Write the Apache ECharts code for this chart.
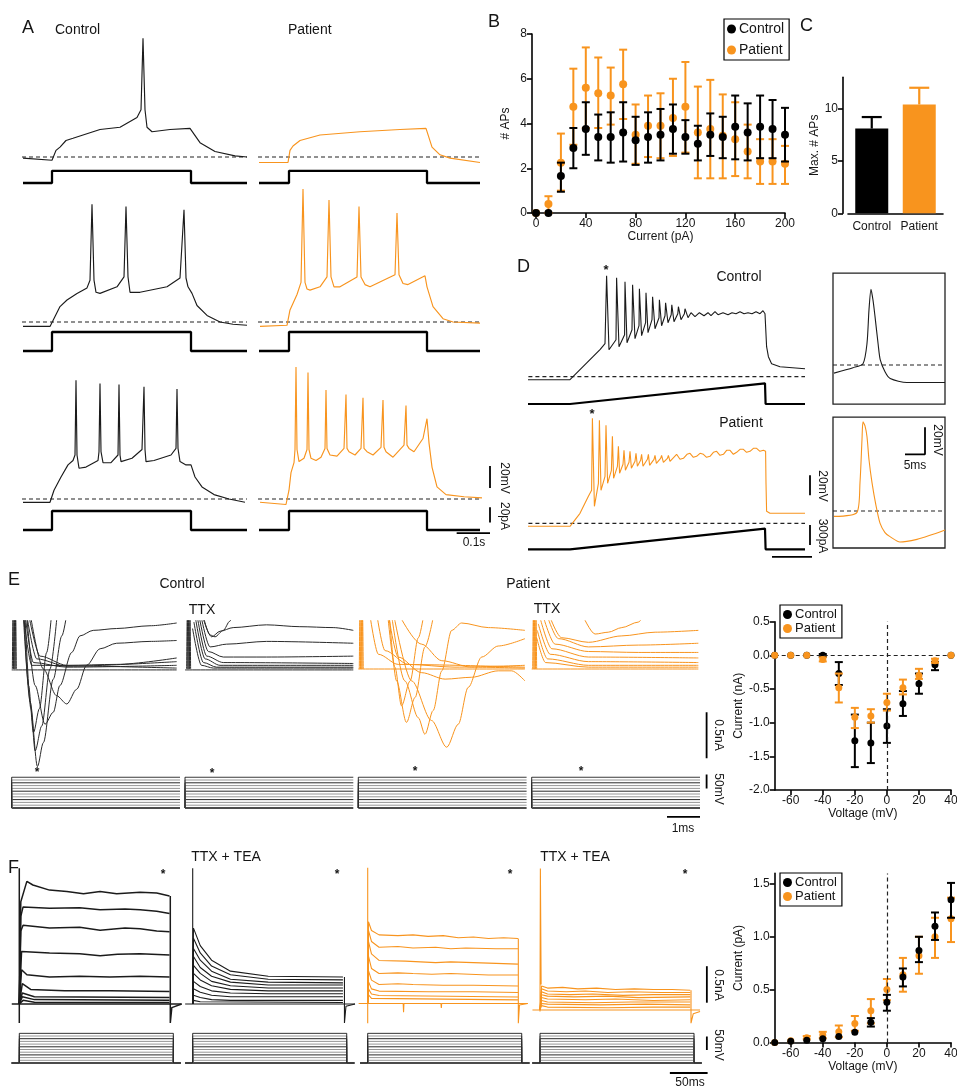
<!DOCTYPE html>
<html><head><meta charset="utf-8">
<script src="https://cdn.jsdelivr.net/npm/echarts@6/dist/echarts.min.js"></script>
<style>html,body{margin:0;padding:0;background:#fff}#c{width:957px;height:1091px}</style>
</head><body><div id="c"></div><script>
// ---------------- DATA ----------------
// Panel B: number of APs vs injected current
const bCurrent=[0,10,20,30,40,50,60,70,80,90,100,110,120,130,140,150,160,170,180,190,200];
const bCtrlMean=[0,0,1.65,2.9,3.75,3.4,3.4,3.6,3.25,3.4,3.5,3.75,3.4,3.1,3.5,3.4,3.85,3.6,3.85,3.75,3.5];
const bCtrlLo=[null,null,0.95,2.0,2.6,2.35,2.25,2.3,2.15,2.25,2.35,2.65,2.65,2.35,2.55,2.45,2.4,2.35,2.45,2.45,2.3];
const bCtrlHi=[null,null,2.25,3.8,4.95,4.4,4.5,4.95,4.3,4.5,4.65,4.85,4.15,3.9,4.45,4.3,5.25,4.9,5.25,5.05,4.7];
const bPatMean=[0,0.4,2.25,4.75,5.6,5.35,5.25,5.75,3.5,3.9,3.9,4.25,4.75,3.6,3.75,3.45,3.3,2.75,2.3,2.3,2.2];
const bPatLo=[null,0,1.0,3.05,3.8,3.8,3.95,4.2,2.2,2.5,2.45,2.55,2.7,1.55,1.55,1.55,1.65,1.55,1.3,1.3,1.3];
const bPatHi=[null,0.75,3.55,6.45,7.4,6.95,6.5,7.3,4.85,5.25,5.35,6.0,6.75,5.65,5.95,5.3,4.95,3.95,3.3,3.3,3.0];
// Panel C: max number of APs
const cGroups=['Control','Patient'];
const cMean=[8.1,10.4];
const cErrHi=[9.2,12.0];
// Panel E / F I-V curves
const ivVoltage=[-70,-60,-50,-40,-30,-20,-10,0,10,20,30,40];
const eCtrlMean=[0,0,0,0,-0.27,-1.27,-1.3,-1.05,-0.72,-0.42,-0.14,0];
const eCtrlLo=[null,null,null,-0.02,-0.44,-1.66,-1.6,-1.3,-0.9,-0.57,-0.22,null];
const eCtrlHi=[null,null,null,0.02,-0.1,-0.88,-1.0,-0.8,-0.53,-0.27,-0.1,null];
const ePatMean=[0,0,0,-0.06,-0.48,-0.92,-0.9,-0.7,-0.48,-0.3,-0.08,0];
const ePatLo=[null,null,null,-0.09,-0.7,-1.08,-1.0,-0.82,-0.58,-0.35,-0.11,null];
const ePatHi=[null,null,null,-0.03,-0.27,-0.78,-0.8,-0.57,-0.36,-0.2,-0.05,null];
const fCtrlMean=[0,0.01,0.02,0.035,0.055,0.095,0.19,0.38,0.62,0.87,1.1,1.35];
const fCtrlLo=[null,null,null,null,null,null,0.15,0.3,0.53,0.76,0.97,1.18];
const fCtrlHi=[null,null,null,null,null,null,0.23,0.45,0.7,1.0,1.23,1.51];
const fPatMean=[0,0.015,0.045,0.07,0.1,0.18,0.3,0.5,0.64,0.82,1.0,1.17];
const fPatLo=[null,null,0.03,0.04,0.05,0.11,0.18,0.4,0.48,0.65,0.8,0.95];
const fPatHi=[null,null,0.06,0.1,0.16,0.25,0.41,0.6,0.8,1.0,1.18,1.37];

// Panel A: voltage traces [ms, mV]
const REST=-65;
const aCtrl1=[[0,-66],[87,-68],[99,-59],[111,-56],[129,-50],[150,-48],[231,-40],[291,-38],[342,-29],[354,-22],[360,43],[366,-22],[372,-38],[387,-42],[441,-40],[501,-39],[531,-52],[576,-60],[636,-64],[672,-65]];
const aPat1=[[0,-70],[87,-70],[93,-59],[102,-55],[123,-50],[183,-45],[303,-42],[423,-40],[501,-39],[519,-56],[543,-63],[573,-66],[663,-70]];
const aCtrl2=[[0,-69],[81,-69],[96,-60],[111,-51],[132,-45],[162,-39],[192,-34],[201,-27],[207,42],[213,-27],[219,-38],[231,-39],[282,-33],[303,-24],[309,40],[315,-24],[321,-38],[351,-38],[432,-33],[471,-25],[483,37],[489,-25],[495,-33],[507,-39],[522,-50],[552,-59],[591,-65],[630,-67],[672,-68]];
const aPat2=[[3,-69],[84,-68],[93,-54],[114,-40],[126,-29],[132,56],[138,-29],[144,-35],[153,-36],[183,-33],[204,-24],[210,46],[216,-24],[225,-33],[243,-33],[294,-24],[300,40],[306,-24],[318,-31],[333,-33],[408,-22],[414,34],[420,-22],[432,-30],[447,-31],[498,-23],[504,-33],[522,-51],[552,-62],[582,-65],[663,-66]];
const aCtrl3=[[0,-68],[81,-68],[93,-57],[114,-45],[135,-34],[150,-30],[156,-25],[159,43],[162,-25],[168,-37],[189,-36],[225,-30],[228,-22],[231,40],[234,-22],[240,-32],[264,-32],[285,-25],[288,39],[291,-25],[294,-31],[327,-28],[357,-20],[363,37],[366,-20],[369,-31],[393,-30],[444,-25],[459,-19],[462,35],[465,-19],[471,-31],[489,-34],[504,-34],[516,-45],[537,-54],[573,-61],[618,-65],[666,-68]];
const aPat3=[[3,-68],[81,-70],[90,-57],[96,-41],[105,-32],[108,-20],[111,55],[114,-20],[120,-31],[135,-28],[144,-20],[147,50],[150,-20],[156,-28],[171,-30],[186,-27],[198,-19],[201,34],[204,-19],[213,-25],[234,-26],[255,-19],[261,30],[264,-19],[270,-22],[288,-25],[306,-19],[312,27],[315,-19],[324,-22],[342,-25],[366,-18],[372,25],[375,-18],[381,-22],[402,-27],[435,-16],[441,20],[444,-16],[450,-19],[465,-22],[492,-10],[504,8],[510,-14],[519,-36],[534,-54],[561,-61],[615,-63],[669,-64]];
const aStimOn=[87,90], aStimOff=504, aStimEnd=[672,663];
const aStimAmp=[16,25,25]; // pA
const aRestSpan=[[-3,672],[-3,669]];

// Panel D: ramp-evoked firing [ms, mV]
const dCtrl=[[0,-68],[210,-68],[295,-51],[360,-38],[385,-32],[393,36],[405,-38],[440,-28],[443,34],[455,-35],[483,-23],[485,30],[495,-31],[520,-18],[523,27],[535,-27],[555,-14],[557,23],[568,-24],[588,-11],[590,19],[600,-21],[620,-8],[623,15],[635,-17],[655,-6],[657,12],[668,-14],[685,-4],[688,9],[700,-11],[716,-3],[719,7],[730,-10],[749,-2],[752,5],[765,-8],[782,-2],[785,3],[800,-6],[815,-1],[818,1],[835,-5],[857,-1],[860,0],[880,-4],[900,-1],[915,-4],[935,0],[950,-3],[975,-1],[1000,-3],[1020,-1],[1040,-2],[1060,0],[1080,-2],[1100,-1],[1120,-2],[1140,0],[1160,-2],[1175,1],[1185,-2],[1193,-35],[1202,-45],[1218,-52],[1260,-55],[1385,-57]];
const dPat=[[0,-68],[210,-68],[260,-55],[302,-38],[318,-32],[322,40],[332,-48],[352,-25],[357,38],[365,-32],[385,-18],[390,33],[398,-25],[417,-12],[422,22],[428,-20],[447,-8],[452,12],[458,-15],[475,-6],[480,8],[487,-12],[505,-4],[510,7],[517,-10],[535,-3],[540,5],[547,-8],[563,-2],[568,4],[575,-8],[597,-1],[602,4],[608,-7],[630,-1],[635,3],[642,-5],[663,0],[668,3],[677,-4],[697,0],[702,3],[710,-3],[743,4],[760,-1],[777,0],[795,4],[810,5],[827,1],[843,2],[860,5],[877,4],[893,1],[910,2],[927,6],[943,7],[960,3],[977,4],[993,8],[1010,8],[1027,4],[1043,6],[1060,9],[1077,9],[1093,6],[1110,7],[1127,10],[1143,10],[1160,7],[1177,8],[1188,7],[1190,-25],[1193,-53],[1210,-55],[1385,-55]];
const dRampT=[0,210,1185,1188,1385];
const dRampI=[0,0,310,0,0]; // pA
const dInsetCtrl=[[0.25,-71],[5,-67],[7.5,-64],[8.5,-49],[9,-24],[9.5,-9],[10,-17],[10.5,-29],[11.3,-50],[11.8,-61],[13,-70],[14.3,-75],[18.5,-78],[28,-78]];
const dInsetPat=[[0.25,-69],[6,-66],[6.75,-44],[7.25,-12],[7.5,1],[8,-2],[8.5,-10],[9,-27],[9.75,-44],[10.75,-61],[11.75,-74],[13,-81],[14.25,-84],[16.75,-88],[21,-86],[24.25,-83],[28,-79]];

// Panel E: Na currents [ms, nA]
const eCtrlTraces=[
 [[0.35,0.6],[0.56,-0.36],[0.78,-1.06],[0.96,-0.8],[1.26,-0.11],[1.52,0.36],[1.67,0.6]],
 [[0.4,0.6],[0.58,-0.43],[0.71,-0.89],[0.91,-0.62],[1.16,0],[1.38,0.6]],
 [[0.37,0.6],[0.51,-0.18],[0.66,-0.69],[0.84,-0.43],[1.06,0.18],[1.21,0.6]],
 [[0.45,0.6],[0.71,-0.18],[1.01,-0.6],[1.26,-0.47],[1.46,-0.18],[1.82,0.18],[2.07,0.36],[2.47,0.42],[3.18,0.44],[4.19,0.47],[5.0,0.5]],
 [[0.56,0.6],[0.96,0],[1.36,-0.29],[1.67,-0.38],[1.97,-0.22],[2.27,0.04],[2.68,0.22],[3.18,0.28],[4.19,0.3],[5.0,0.31]],
 [[0.51,0.6],[0.86,0.14],[1.67,0.04],[3.18,0.05],[5.0,0.12]],
 [[0.45,0.6],[0.76,0.11],[1.67,0.03],[5.0,0.08]],
 [[0.4,0.6],[0.66,0.07],[1.67,0.02],[5.0,0.04]],
 [[0.35,0.6],[0.61,0.04],[5.0,0.01]],
 [[0,-0.01],[5.0,-0.01]],
 [[0.02,0],[0.04,0.6],[0.06,0],[0.08,0.6],[0.1,0],[0.12,0.6],[0.14,0]]
];
const eCtrlTtxTraces=[
 [[0.45,0.73],[0.76,0.37],[0.91,0.35],[1.16,0.42],[1.36,0.52],[1.46,0.6]],
 [[0.4,0.73],[0.81,0.35],[1.06,0.41],[1.46,0.45],[2.47,0.48],[3.48,0.46],[4.49,0.45],[5.1,0.42]],
 [[0.4,0.73],[0.76,0.24],[1.26,0.27],[2.47,0.3],[5.1,0.28]],
 [[0.35,0.73],[0.71,0.19],[1.16,0.13],[2.47,0.13],[5.1,0.14]],
 [[0.33,0.66],[0.66,0.14],[1.16,0.07],[5.1,0.06]],
 [[0.3,0.59],[0.61,0.11],[1.06,0.04],[5.1,0.04]],
 [[0.27,0.51],[0.56,0.07],[0.96,0.02],[5.1,0.02]],
 [[0.23,0.44],[0.5,0.04],[0.86,0.01],[5.1,0.01]],
 [[0,-0.01],[5.1,-0.01]],
 [[0.05,0],[0.07,0.6],[0.09,0],[0.11,0.6],[0.13,0],[0.15,0.6],[0.17,0]]
];
const ePatTraces=[
 [[0.86,0.71],[1.11,0.02],[1.31,-0.4],[1.57,-0.13],[1.82,0.34],[1.97,0.56]],
 [[0.91,0.71],[1.16,-0.13],[1.46,-0.58],[1.72,-0.31],[2.02,0.24],[2.27,0.56]],
 [[0.96,0.71],[1.41,-0.13],[1.82,-0.53],[2.02,-0.71],[2.27,-0.45],[2.53,-0.02],[2.83,0.42],[3.13,0.5],[3.94,0.45],[5.05,0.42]],
 [[1.01,0.71],[1.62,-0.13],[2.22,-0.56],[2.68,-0.85],[3.03,-0.6],[3.33,-0.2],[3.74,0.13],[4.24,0.25],[5.05,0.33]],
 [[0.86,0.71],[1.21,0.13],[1.92,-0.04],[2.63,-0.11],[3.43,-0.09],[4.24,-0.02],[4.65,-0.02],[5.05,-0.13]],
 [[0.51,0.71],[0.81,0.2],[1.52,0.05],[2.93,0.02],[5.05,0.04]],
 [[0.3,0.71],[0.61,0.16],[1.21,0.05],[5.05,0.02]],
 [[1.06,0.71],[1.92,0.27],[2.53,0.09],[3.43,0.02],[5.05,0.01]],
 [[0,0],[5.05,0]],
 [[0.03,0],[0.05,0.6],[0.07,0],[0.09,0.6],[0.11,0],[0.13,0.6],[0.15,0]]
];
const ePatTtxTraces=[
 [[1.52,0.6],[1.92,0.38],[2.32,0.4],[2.73,0.45],[3.23,0.51],[3.43,0.6]],
 [[0.4,0.71],[0.91,0.34],[1.72,0.29],[2.73,0.36],[3.74,0.4],[5.05,0.42]],
 [[0.35,0.71],[0.81,0.33],[1.72,0.24],[3.23,0.26],[5.05,0.28]],
 [[0.3,0.63],[0.71,0.27],[1.72,0.19],[3.23,0.18],[5.05,0.18]],
 [[0.25,0.56],[0.61,0.22],[1.72,0.13],[5.05,0.12]],
 [[0.2,0.49],[0.56,0.16],[1.72,0.08],[5.05,0.07]],
 [[0.17,0.42],[0.48,0.11],[1.72,0.04],[5.05,0.04]],
 [[0.15,0.34],[0.42,0.07],[1.72,0.02],[5.05,0.02]],
 [[0,0],[5.05,0]],
 [[0.03,0],[0.05,0.6],[0.07,0],[0.09,0.6],[0.11,0],[0.13,0.6],[0.15,0]]
];
const stepHold=-70;
const stepLevels=[-70,-60,-50,-40,-30,-20,-10,0,10,20,30,40]; // mV
const eStepEnd=5.1, fStepEnd=204;

// Panel F: K currents [ms, nA]
const fCtrlTraces=[
 [[0,0],[2,1.4],[10,1.68],[18,1.63],[40,1.56],[63,1.54],[85,1.51],[107,1.54],[129,1.51],[160,1.53],[182,1.52],[199,1.48]],
 [[0,0],[2,1.2],[5,1.33],[40,1.31],[80,1.32],[107,1.29],[140,1.3],[160,1.29],[182,1.27],[199,1.24]],
 [[0,0],[2,1.0],[5,1.08],[40,1.04],[80,1.05],[107,1.01],[140,1.04],[160,1.03],[182,1.0],[199,0.99]],
 [[0,0],[3,0.72],[40,0.7],[80,0.69],[107,0.66],[130,0.68],[160,0.69],[199,0.67]],
 [[0,0],[3,0.47],[10,0.4],[40,0.37],[80,0.38],[120,0.37],[160,0.38],[199,0.37]],
 [[0,0],[4,0.28],[15,0.2],[60,0.18],[120,0.18],[199,0.17]],
 [[0,0],[4,0.15],[20,0.1],[199,0.09]],
 [[0,0],[4,0.1],[20,0.06],[199,0.05]],
 [[0,0],[5,0.05],[20,0.025],[199,0.02]],
 [[-10,0],[215,0]],
 [[0,-0.26],[0,1.86]],
 [[200,1.48],[200,-0.26],[202,-0.05],[215,0]]
];
const fCtrlTeaTraces=[
 [[0,0],[1,1.04],[10,0.8],[25,0.6],[50,0.45],[100,0.38],[199,0.37]],
 [[0,0],[1,0.9],[10,0.7],[25,0.52],[50,0.4],[100,0.34],[199,0.33]],
 [[0,0],[1,0.76],[10,0.6],[25,0.45],[50,0.34],[100,0.3],[199,0.29]],
 [[0,0],[1,0.65],[10,0.5],[25,0.38],[50,0.3],[100,0.26],[199,0.26]],
 [[0,0],[1,0.53],[10,0.42],[25,0.31],[50,0.25],[100,0.22],[199,0.22]],
 [[0,0],[1,0.42],[10,0.33],[25,0.25],[50,0.2],[100,0.18],[199,0.18]],
 [[0,0],[1,0.31],[10,0.24],[25,0.18],[50,0.15],[100,0.14],[199,0.14]],
 [[0,0],[1,0.21],[10,0.16],[25,0.12],[50,0.1],[100,0.1],[199,0.1]],
 [[0,0],[1,0.12],[10,0.09],[25,0.06],[50,0.05],[100,0.05],[199,0.05]],
 [[0,0],[1,0.05],[10,0.03],[199,0.02]],
 [[-10,0],[215,0]],
 [[0,0],[0,1.86]],
 [[201,0.37],[201,-0.26],[203,-0.03],[215,0]]
];
const fPatTraces=[
 [[0,0],[1,1.12],[5,1.0],[15,0.94],[40,0.93],[60,0.94],[80,0.92],[100,0.93],[120,0.9],[140,0.91],[160,0.89],[180,0.9],[199,0.89]],
 [[0,0],[1,1.0],[5,0.85],[15,0.77],[40,0.78],[60,0.76],[90,0.77],[110,0.75],[130,0.76],[170,0.75],[199,0.75]],
 [[0,0],[1,0.85],[5,0.68],[15,0.59],[50,0.58],[70,0.57],[90,0.56],[110,0.57],[140,0.56],[170,0.55],[199,0.54]],
 [[0,0],[1,0.65],[5,0.48],[15,0.41],[40,0.42],[60,0.41],[85,0.4],[110,0.41],[160,0.39],[199,0.39]],
 [[0,0],[1,0.45],[5,0.32],[15,0.26],[40,0.27],[60,0.26],[100,0.25],[140,0.25],[199,0.24]],
 [[0,0],[1,0.3],[5,0.2],[15,0.17],[80,0.16],[140,0.16],[199,0.15]],
 [[0,0],[1,0.2],[5,0.13],[15,0.11],[199,0.09]],
 [[0,0],[1,0.12],[5,0.07],[199,0.05]],
 [[-12,0],[47,0],[47.5,-0.12],[48,0],[97,0],[97.5,-0.06],[98,0],[212,0]],
 [[0,-0.27],[0,1.86]],
 [[199.5,0.89],[199.5,-0.27],[201,-0.02],[212,0]]
];
const fPatTeaTraces=[
 [[0,0],[2,0.33],[10,0.3],[30,0.31],[50,0.29],[75,0.3],[100,0.28],[125,0.29],[150,0.28],[175,0.28],[199,0.27]],
 [[0,0],[2,0.29],[10,0.26],[35,0.25],[60,0.26],[90,0.24],[120,0.25],[160,0.24],[199,0.24]],
 [[0,0],[2,0.25],[10,0.22],[40,0.21],[70,0.22],[110,0.2],[150,0.21],[199,0.21]],
 [[0,0],[2,0.21],[10,0.19],[45,0.18],[90,0.19],[130,0.17],[199,0.18]],
 [[0,0],[2,0.17],[10,0.15],[60,0.14],[100,0.15],[150,0.13],[199,0.14]],
 [[0,0],[2,0.13],[10,0.11],[70,0.1],[120,0.11],[199,0.11]],
 [[0,0],[2,0.09],[10,0.08],[80,0.07],[140,0.08],[199,0.07]],
 [[0,0],[2,0.06],[10,0.04],[90,0.03],[150,0.04],[199,0.04]],
 [[-10,0],[212,0]],
 [[0,-0.02],[0.5,1.94],[1.5,0.35]],
 [[200,0.27],[200,-0.18],[203,-0.05],[212,-0.02]]
];
// scale bars (physical sizes)
const barA={mV:[-55,-35],pA:[10,30],ms:[593,693]};
const barD={mV:[-37,-17],pA:[65,365],ms:[1220,1420]};
const barDInset={ms:[18,23],mV:[-23,-3]};
const barE={nA:[-0.97,-0.47],mV:[0,50],ms:[4.1,5.1]};
const barF={nA:[0.1,0.6],mV:[-22,28],ms:[172,222]};

// ---------------- BUILD ----------------
const ORANGE='#F8941E', INK='#1b1b1b';
const FONT="'Liberation Sans', Arial, Helvetica, sans-serif";
const grids=[], xAxes=[], yAxes=[], series=[], texts=[];
function addGrid(g,xa,ya){
  grids.push(Object.assign({containLabel:false,outerBoundsMode:'none'},g));
  const i=grids.length-1;
  xAxes.push(Object.assign({type:'value',gridIndex:i},xa));
  yAxes.push(Object.assign({type:'value',gridIndex:i},ya));
  return i;
}
// hidden panel: data point (ax,ay) placed at pixel (px,py), kx/ky = px per unit
function panel(px,py,ax,ay,xr,yr,kx,ky,border){
  return addGrid({left:px-(ax-xr[0])*kx, top:py-(yr[1]-ay)*ky, width:(xr[1]-xr[0])*kx, height:(yr[1]-yr[0])*ky,
    show:!!border, borderColor:'#222', borderWidth:1.3, backgroundColor:'rgba(0,0,0,0)'},
    {min:xr[0],max:xr[1],show:false},{min:yr[0],max:yr[1],show:false});
}
function line(gi,data,color,width,opt){
  series.push(Object.assign({type:'line',xAxisIndex:gi,yAxisIndex:gi,data:data,symbol:'none',showSymbol:false,
    lineStyle:{color:color,width:width},silent:true,animation:false},opt||{}));
}
function dashed(gi,data,w){ line(gi,data,'#222',w||1.2,{lineStyle:{color:'#222',width:w||1.2,type:[4,3]}}); }
function T(text,x,y,size,o){ o=o||{};
  texts.push({type:'text',x:x,y:y,rotation:o.rot||0,silent:true,z:100,
    style:{text:text,fontSize:size,fontFamily:FONT,fill:o.color||'#151515',fontWeight:o.bold?'bold':'normal',
      textAlign:o.align||'left',align:o.align||'left',textVerticalAlign:'middle',verticalAlign:'middle'}});
}
function errSeries(gi,xs,lo,hi,color,capW,lw,z,noLowCap){
  const data=[];
  xs.forEach((x,i)=>{ if(lo[i]!=null && hi[i]!=null) data.push([x,lo[i],hi[i]]); });
  series.push({type:'custom',xAxisIndex:gi,yAxisIndex:gi,silent:true,animation:false,z:z,data:data,
    encode:{x:0,y:[1,2]},
    renderItem:function(params,api){
      const x=api.value(0);
      const a=api.coord([x,api.value(1)]), b=api.coord([x,api.value(2)]);
      const st={stroke:color,lineWidth:lw};
      const ch=[{type:'line',shape:{x1:a[0],y1:a[1],x2:b[0],y2:b[1]},style:st},
        {type:'line',shape:{x1:b[0]-capW/2,y1:b[1],x2:b[0]+capW/2,y2:b[1]},style:st}];
      if(!noLowCap) ch.push({type:'line',shape:{x1:a[0]-capW/2,y1:a[1],x2:a[0]+capW/2,y2:a[1]},style:st});
      return {type:'group',children:ch};
    }});
}
function scatter(gi,name,xs,ys,color,size,z){
  series.push({type:'scatter',name:name,xAxisIndex:gi,yAxisIndex:gi,data:xs.map((x,i)=>[x,ys[i]]),
    symbol:'circle',symbolSize:size,itemStyle:{color:color,opacity:1},silent:true,animation:false,z:z});
}
const AXS={color:'#000',width:1.6};
const LBL={color:'#151515',fontSize:12,fontFamily:FONT,margin:5};
const NAMEST={color:'#151515',fontSize:12,fontFamily:FONT};
function ax(extra){ return Object.assign({axisLine:{show:true,onZero:false,lineStyle:AXS},
  axisTick:{show:true,length:5,lineStyle:AXS},axisLabel:Object.assign({},LBL),splitLine:{show:false},
  nameLocation:'middle',nameTextStyle:NAMEST},extra); }
const BAR_W=1.8;

// ---- Panel A ----
const A_KX=1/3, A_KY=1.1, A_KI=0.76;
const aRestY=[157,322,499], aStimY=[183,351,530], aColX=[23,259];
const aTraces=[[aCtrl1,aPat1],[aCtrl2,aPat2],[aCtrl3,aPat3]];
for(let r=0;r<3;r++){ for(let c=0;c<2;c++){
  const gv=panel(aColX[c],aRestY[r],0,REST,[-5,680],[-80,62],A_KX,A_KY);
  dashed(gv,[[aRestSpan[c][0],REST],[aRestSpan[c][1],REST]]);
  line(gv,aTraces[r][c],c?ORANGE:INK,1.15);
  const gi=panel(aColX[c],aStimY[r],0,0,[-5,680],[-10,40],A_KX,A_KI);
  const on=aStimOn[c], amp=aStimAmp[r];
  line(gi,[[0,0],[on,0],[on,amp],[aStimOff,amp],[aStimOff,0],[aStimEnd[c],0]],'#000',2.3);
}}
{ // scale bars, same scales as the patient row-3 panels
  const gs=panel(259,499,0,REST,[680,700],[-60,-30],A_KX,A_KY);
  line(gs,[[693,barA.mV[0]],[693,barA.mV[1]]],'#000',BAR_W);
  const gq=panel(259,530,0,0,[580,700],[-8,34],A_KX,A_KI);
  line(gq,[[693,barA.pA[0]],[693,barA.pA[1]]],'#000',BAR_W);
  line(gq,[[barA.ms[0],-4],[barA.ms[1],-4]],'#000',BAR_W);
}

// ---- Panel B ----
const gB=addGrid({left:536,top:34,width:249,height:179},
  ax({min:0,max:200,interval:40,name:'Current (pA)',nameGap:17}),
  ax({min:0,max:8,interval:2,offset:4,name:'# APs',nameGap:20}));
errSeries(gB,bCurrent,bPatLo,bPatHi,ORANGE,8,2,2);
scatter(gB,'Patient',bCurrent,bPatMean,ORANGE,8,3);
errSeries(gB,bCurrent,bCtrlLo,bCtrlHi,'#000',8,2,4);
scatter(gB,'Control',bCurrent,bCtrlMean,'#000',8,5);

// ---- Panel C ----
const gC=addGrid({left:848,top:77.3,width:95,height:136},
  ax({type:'category',data:cGroups,axisTick:{show:false},axisLabel:Object.assign({},LBL,{fontSize:12,margin:7,interval:0})}),
  ax({min:0,max:13,offset:5,axisTick:{show:true,length:5,lineStyle:AXS,customValues:[0,5,10]},
      axisLabel:Object.assign({},LBL,{customValues:[0,5,10]}),name:'Max. # APs',nameGap:22}));
series.push({type:'bar',xAxisIndex:gC,yAxisIndex:gC,barWidth:33,silent:true,animation:false,
  data:cMean.map((v,i)=>({value:v,itemStyle:{color:i?ORANGE:'#000'}}))});
errSeries(gC,[0],[cMean[0]],[cErrHi[0]],'#000',20,2.2,3,true);
errSeries(gC,[1],[cMean[1]],[cErrHi[1]],ORANGE,20,2.2,3,true);

// ---- Panel D ----
const D_KX=0.2, D_KY=1, D_KI=1/15;
const gDc=panel(528,376.7,0,REST,[-10,1400],[-80,45],D_KX,D_KY);
dashed(gDc,[[2,REST],[1385,REST]]);
line(gDc,dCtrl,INK,1.1);
const gDci=panel(528,404,0,0,[-10,1400],[-30,330],D_KX,D_KI);
line(gDci,dRampT.map((t,i)=>[t,dRampI[i]]),'#000',2.2);
const gDp=panel(528,523.3,0,REST,[-10,1400],[-80,45],D_KX,D_KY);
dashed(gDp,[[2,REST],[1385,REST]]);
line(gDp,dPat,ORANGE,1.1);
const gDpi=panel(528,549.3,0,0,[-10,1400],[-30,330],D_KX,D_KI);
line(gDpi,dRampT.map((t,i)=>[t,dRampI[i]]),'#000',2.2);
{
  const gs=panel(528,523.3,0,REST,[1400,1430],[-45,-10],D_KX,D_KY);
  line(gs,[[1410,barD.mV[0]],[1410,barD.mV[1]]],'#000',BAR_W);
  const gq=panel(528,549.3,0,0,[1200,1430],[-130,380],D_KX,D_KI);
  line(gq,[[1410,barD.pA[0]],[1410,barD.pA[1]]],'#000',BAR_W);
  line(gq,[[barD.ms[0],-115],[barD.ms[1],-115]],'#000',BAR_W);
}
const gIc=panel(833,365,0,REST,[0,28],[-94,3],4,1.35,true);
dashed(gIc,[[0,REST],[28,REST]]);
line(gIc,dInsetCtrl,INK,1.1,{smooth:0.25});
const gIp=panel(833,511,0,REST,[0,28],[-92.4,4.6],4,1.35,true);
dashed(gIp,[[0,REST],[28,REST]]);
line(gIp,dInsetPat,ORANGE,1.1,{smooth:0.25});
line(gIp,[[barDInset.ms[0],barDInset.mV[0]],[barDInset.ms[1],barDInset.mV[0]],[barDInset.ms[1],barDInset.mV[1]]],'#000',BAR_W);

// ---- Panel E ----
const E_KX=33, E_KY=92, E_KV=0.28;
const eLeft=[11.7,185,358.3,531.7];
const eSets=[eCtrlTraces,eCtrlTtxTraces,ePatTraces,ePatTtxTraces];
for(let k=0;k<4;k++){
  const g=panel(eLeft[k],669,0,0,[0,5.1],[-1.15,0.525],E_KX,E_KY);
  const col=k<2?'#2a2a2a':ORANGE;
  eSets[k].forEach(d=>line(g,d,col,1.0,{smooth:0.3,smoothMonotone:'x'}));
  const gs=panel(eLeft[k],808,0,stepHold,[-0.05,5.15],[-72,42],E_KX,E_KV);
  stepLevels.forEach((L,i)=>line(gs,[[0,stepHold],[0,L],[eStepEnd,L]],(i===0||i===stepLevels.length-1||i%3===0)?'#111':'#8a8a8a',i===0?1.6:0.9));
}
{
  const gs=panel(531.7,669,0,0,[5.2,5.4],[-1.05,-0.4],E_KX,E_KY);
  line(gs,[[5.3,barE.nA[0]],[5.3,barE.nA[1]]],'#000',BAR_W);
  const gq=panel(531.7,808,0,stepHold,[4,5.4],[-115,60],E_KX,E_KV);
  line(gq,[[5.3,barE.mV[0]],[5.3,barE.mV[1]]],'#000',BAR_W);
  line(gq,[[barE.ms[0],-102],[barE.ms[1],-102]],'#000',BAR_W);
}

// ---- Panel F ----
const F_KX=0.755, F_KY=73, F_KV=0.27;
const fT0=[19.3,192.7,367.7,540], fBase=[1004,1004,1003.5,1010];
const fSets=[fCtrlTraces,fCtrlTeaTraces,fPatTraces,fPatTeaTraces];
for(let k=0;k<4;k++){
  const g=panel(fT0[k],fBase[k],0,0,[-12,216],[-0.3,1.95],F_KX,F_KY);
  const col=k<2?'#1b1b1b':ORANGE;
  fSets[k].forEach(d=>line(g,d,col,k===0?1.5:1.1));
  const gs=panel(fT0[k],1063,0,stepHold,[-12,216],[-72,42],F_KX,F_KV);
  stepLevels.forEach((L,i)=>line(gs,[[-10,stepHold],[0,stepHold],[0,L],[fStepEnd,L],[fStepEnd,stepHold],[214,stepHold]],(i===0||i===stepLevels.length-1||i%3===0)?'#111':'#8a8a8a',i===0?1.6:0.9));
}
{
  const gs=panel(540,1010,0,0,[215,225],[0,0.7],F_KX,F_KY);
  line(gs,[[221,barF.nA[0]],[221,barF.nA[1]]],'#000',BAR_W);
  const gq=panel(540,1063,0,stepHold,[165,226],[-115,35],F_KX,F_KV);
  line(gq,[[221,barF.mV[0]],[221,barF.mV[1]]],'#000',BAR_W);
  line(gq,[[barF.ms[0],-107],[barF.ms[1],-107]],'#000',BAR_W);
}

// ---- I-V plots ----
const ivX={min:-70,max:40,name:'Voltage (mV)',nameGap:18,
  axisTick:{show:true,length:5,lineStyle:AXS,customValues:[-60,-40,-20,0,20,40]},
  axisLabel:Object.assign({},LBL,{customValues:[-60,-40,-20,0,20,40]})};
const gEiv=addGrid({left:774.7,top:621.7,width:176.3,height:168.3},
  ax(Object.assign({},ivX)),
  ax({min:-2,max:0.5,interval:0.5,name:'Current (nA)',nameGap:30,axisLabel:Object.assign({},LBL,{formatter:v=>v.toFixed(1)})}));
series.push({type:'line',xAxisIndex:gEiv,yAxisIndex:gEiv,data:[],silent:true,animation:false,
  markLine:{silent:true,symbol:'none',animation:false,label:{show:false},lineStyle:{color:'#222',width:1.2,type:[4,3]},
    data:[{yAxis:0},{xAxis:0}]}});
errSeries(gEiv,ivVoltage,eCtrlLo,eCtrlHi,'#000',8,2,2);
scatter(gEiv,'Control',ivVoltage,eCtrlMean,'#000',7,3);
errSeries(gEiv,ivVoltage,ePatLo,ePatHi,ORANGE,8,2,4);
scatter(gEiv,'Patient',ivVoltage,ePatMean,ORANGE,7,5);

const gFiv=addGrid({left:774.7,top:873.4,width:176.3,height:169},
  ax(Object.assign({},ivX)),
  ax({min:0,max:1.6,name:'Current (pA)',nameGap:30,
      axisTick:{show:true,length:5,lineStyle:AXS,customValues:[0,0.5,1,1.5]},
      axisLabel:Object.assign({},LBL,{customValues:[0,0.5,1,1.5],formatter:v=>Number(v).toFixed(1)})}));
series.push({type:'line',xAxisIndex:gFiv,yAxisIndex:gFiv,data:[],silent:true,animation:false,
  markLine:{silent:true,symbol:'none',animation:false,label:{show:false},lineStyle:{color:'#222',width:1.2,type:[4,3]},
    data:[{xAxis:0}]}});
errSeries(gFiv,ivVoltage,fPatLo,fPatHi,ORANGE,8,2,2);
scatter(gFiv,'Patient',ivVoltage,fPatMean,ORANGE,7,3);
errSeries(gFiv,ivVoltage,fCtrlLo,fCtrlHi,'#000',8,2,4);
scatter(gFiv,'Control',ivVoltage,fCtrlMean,'#000',7,5);

// ---- legends ----
function legend(left,top,fs,gap){
  return {left:left,top:top,orient:'vertical',data:['Control','Patient'],selectedMode:false,
    borderColor:'#000',borderWidth:1.2,padding:[3,5,3,3],itemWidth:9,itemHeight:9,itemGap:gap,icon:'circle',
    textStyle:{fontSize:fs,fontFamily:FONT,color:'#151515',padding:[0,0,0,-2]}};
}

// ---- texts ----
T('A',22,28,18); T('Control',55,30,14); T('Patient',288,30,14);
T('B',488,22,18); T('C',800,26,18); T('D',517,267,18); T('E',8,580,18); T('F',8,868,18);
T('20mV',504,478,12,{rot:-Math.PI/2,align:'center'}); T('20pA',504,516,12,{rot:-Math.PI/2,align:'center'});
T('0.1s',474,543,12,{align:'center'});
T('Control',739,277,14,{align:'center'}); T('Patient',741,423,14,{align:'center'});
T('*',606,270,13,{align:'center',bold:true}); T('*',592,414,13,{align:'center',bold:true});
T('20mV',822,486,12,{rot:-Math.PI/2,align:'center'}); T('300pA',822,536,12,{rot:-Math.PI/2,align:'center'});
T('20mV',937,440,12,{rot:-Math.PI/2,align:'center'}); T('5ms',915,466,12,{align:'center'});
T('Control',182,584,14,{align:'center'}); T('TTX',202,610,14,{align:'center'});
T('Patient',528,584,14,{align:'center'}); T('TTX',547,609,14,{align:'center'});
[[37,773],[212,774],[415,772],[581,772]].forEach(p=>T('*',p[0],p[1],12,{align:'center',bold:true}));
T('0.5nA',718,735,12,{rot:-Math.PI/2,align:'center'}); T('50mV',718,789,12,{rot:-Math.PI/2,align:'center'});
T('1ms',683,829,12,{align:'center'});
T('TTX + TEA',226,857,14,{align:'center'}); T('TTX + TEA',575,857,14,{align:'center'});
[[163,875],[337,875],[510,875],[685,875]].forEach(p=>T('*',p[0],p[1],12,{align:'center',bold:true}));
T('0.5nA',718,985,12,{rot:-Math.PI/2,align:'center'}); T('50mV',718,1045,12,{rot:-Math.PI/2,align:'center'});
T('50ms',690,1083,12,{align:'center'});

const chart=echarts.init(document.getElementById('c'),null,{renderer:'canvas'});
chart.setOption({animation:false,backgroundColor:'#fff',
  grid:grids,xAxis:xAxes,yAxis:yAxes,series:series,
  legend:[legend(724,19,14,7),legend(780,605,13,1),legend(780,873,13,1)],
  graphic:texts});
</script></body></html>
